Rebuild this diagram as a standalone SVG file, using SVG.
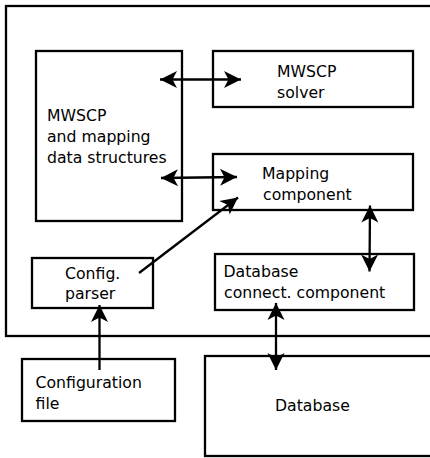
<svg xmlns="http://www.w3.org/2000/svg" width="430" height="458" viewBox="0 0 430 458">
  <style>
    .box { fill: none; stroke: #000; stroke-width: 2.3; }
    .lbl { font-family: "DejaVu Sans", sans-serif; font-size: 15.7px; fill: #000; }
    .wire { fill: none; stroke: #000; stroke-width: 2.3; }
  </style>
  <defs>
    <marker id="head" viewBox="-1 -10 20 20" markerWidth="20" markerHeight="20" refX="17" refY="0" markerUnits="userSpaceOnUse" orient="auto-start-reverse">
      <path d="M17,0 L0,-8.5 L4.5,0 L0,8.5 Z" fill="#000"/>
    </marker>
  </defs>
  <rect width="430" height="458" fill="#fff"/>

  <!-- application boundary -->
  <g id="application">
    <rect class="box" x="6" y="6" width="440" height="330"/>
  </g>

  <g id="data-structures">
    <rect class="box" x="36" y="51" width="146" height="170"/>
    <text class="lbl" x="47" y="121">MWSCP</text>
    <text class="lbl" x="47" y="142">and mapping</text>
    <text class="lbl" x="47" y="162.5">data structures</text>
  </g>

  <g id="solver">
    <rect class="box" x="213" y="51" width="200" height="56"/>
    <text class="lbl" x="277" y="77">MWSCP</text>
    <text class="lbl" x="277" y="98">solver</text>
  </g>

  <g id="mapping">
    <rect class="box" x="213" y="154" width="200" height="56"/>
    <text class="lbl" x="262" y="179">Mapping</text>
    <text class="lbl" x="263" y="200">component</text>
  </g>

  <g id="config-parser">
    <rect class="box" x="32" y="258" width="121" height="50"/>
    <text class="lbl" x="65" y="279">Config.</text>
    <text class="lbl" x="65" y="299">parser</text>
  </g>

  <g id="db-connect">
    <rect class="box" x="215" y="254" width="199" height="56"/>
    <text class="lbl" x="223.5" y="277">Database</text>
    <text class="lbl" x="224" y="297.5">connect. component</text>
  </g>

  <g id="config-file">
    <rect class="box" x="22" y="359" width="153" height="62"/>
    <text class="lbl" x="35.5" y="388">Configuration</text>
    <text class="lbl" x="35.5" y="408.5">file</text>
  </g>

  <g id="database">
    <rect class="box" x="205" y="356" width="240" height="100"/>
    <text class="lbl" x="275" y="410.5">Database</text>
  </g>

  <!-- connectors -->
  <g id="connectors">
    <line class="wire" x1="160" y1="79.5" x2="241" y2="79.5" marker-start="url(#head)" marker-end="url(#head)"/>
    <line class="wire" x1="161" y1="178" x2="237" y2="177" marker-start="url(#head)" marker-end="url(#head)"/>
    <line class="wire" x1="139" y1="273" x2="238" y2="197.5" marker-end="url(#head)"/>
    <line class="wire" x1="370" y1="205.5" x2="369.5" y2="271.5" marker-start="url(#head)" marker-end="url(#head)"/>
    <line class="wire" x1="99.5" y1="370" x2="99.5" y2="305" marker-end="url(#head)"/>
    <line class="wire" x1="276" y1="303" x2="276" y2="370" marker-start="url(#head)" marker-end="url(#head)"/>
  </g>
</svg>
